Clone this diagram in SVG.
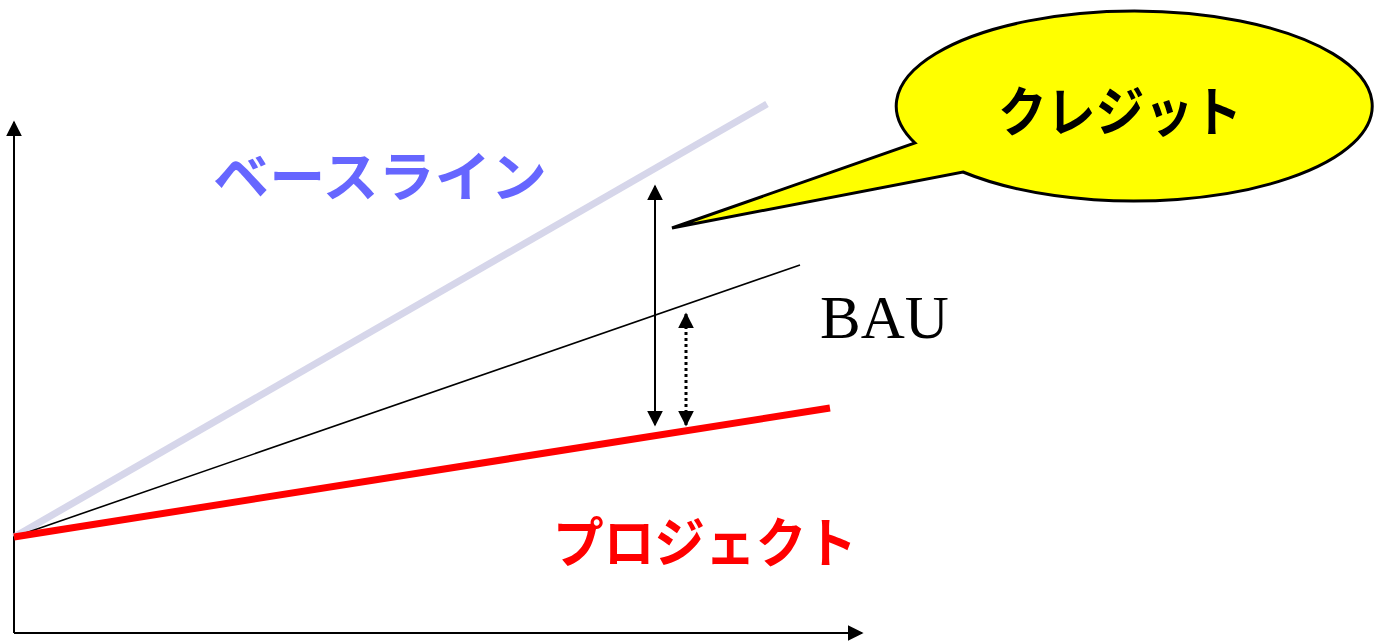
<svg xmlns="http://www.w3.org/2000/svg" width="1375" height="641" viewBox="0 0 1375 641">
<style>
.jp{font-family:"Noto Sans CJK JP","Noto Sans CJK SC",sans-serif;font-weight:bold;font-size:54px}
.ax{stroke:#000;stroke-width:2;fill:none}
</style>
<defs>
<marker id="axh" viewBox="0 0 10 10" refX="9" refY="5" markerWidth="16" markerHeight="16" markerUnits="userSpaceOnUse" orient="auto"><path d="M0,0L10,5L0,10Z" fill="#000"/></marker>
<marker id="dh" viewBox="0 0 10 10" refX="9" refY="5" markerWidth="16" markerHeight="16" markerUnits="userSpaceOnUse" orient="auto-start-reverse"><path d="M0,0L10,5L0,10Z" fill="#000"/></marker>
</defs>
<rect width="1375" height="641" fill="#fff"/>
<g id="connectors">
<line class="ax" x1="14" y1="633" x2="14" y2="122" marker-end="url(#axh)"/>
<line class="ax" x1="14" y1="633" x2="862" y2="633" marker-end="url(#axh)"/>
<line x1="14" y1="537" x2="767" y2="104" stroke="#D6D6EA" stroke-width="7"/>
<line x1="14" y1="537" x2="800" y2="265" stroke="#000" stroke-width="1.6"/>
<line x1="14" y1="537" x2="830" y2="408" stroke="#FF0000" stroke-width="7"/>
<line x1="655" y1="186" x2="655" y2="425" stroke="#000" stroke-width="2" marker-start="url(#dh)" marker-end="url(#dh)"/>
<line x1="686" y1="314" x2="686" y2="425" stroke="#000" stroke-width="3" stroke-dasharray="3,3" marker-start="url(#dh)" marker-end="url(#dh)"/>
</g>
<g id="callout">
<path d="M915,143 A238,95 0 1 1 963,172 L672,228 Z" fill="#FFFF00" stroke="#000" stroke-width="3" stroke-linejoin="miter"/>
<text class="jp" x="1120" y="132" text-anchor="middle" fill="#000" textLength="244" lengthAdjust="spacingAndGlyphs">クレジット</text>
</g>
<g id="baseline-label"><text class="jp" x="380" y="197" text-anchor="middle" fill="#6666FF" font-size="56" textLength="334" lengthAdjust="spacingAndGlyphs">ベースライン</text></g>
<g id="bau-label"><text x="820" y="338" font-family="Liberation Serif,serif" font-size="61" fill="#000">BAU</text></g>
<g id="project-label"><text class="jp" x="705" y="563" text-anchor="middle" fill="#FF0000" textLength="304" lengthAdjust="spacingAndGlyphs">プロジェクト</text></g>
</svg>
